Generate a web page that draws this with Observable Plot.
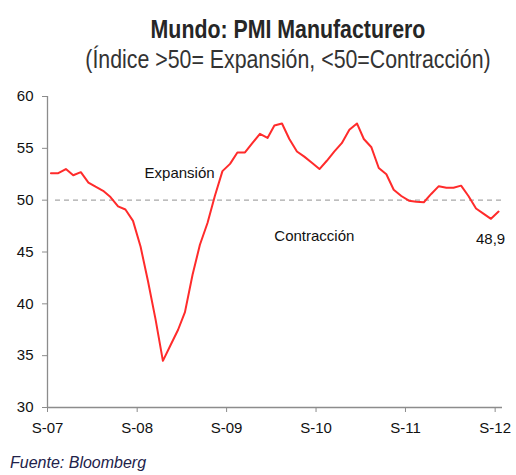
<!DOCTYPE html>
<html>
<head>
<meta charset="utf-8">
<script src="https://cdn.jsdelivr.net/npm/d3@7"></script>
<script src="https://cdn.jsdelivr.net/npm/@observablehq/plot@0.6"></script>
<style>
  html, body { margin: 0; padding: 0; background: #fff; overflow: hidden; }
  #wrap { position: relative; width: 516px; height: 475px; font-family: "Liberation Sans", Arial, sans-serif; }
  .t { position: absolute; left: 0; width: 576px; text-align: center; white-space: nowrap; line-height: 1; transform: scaleX(0.82); transform-origin: 288px 0; }
  #title { top: 16px; font-size: 26px; font-weight: bold; color: #262626; }
  #subtitle { top: 46px; font-size: 26px; color: #333; }
  #source { position: absolute; left: 10px; top: 455px; font-size: 16px; font-style: italic; color: #22224a; line-height: 1; white-space: nowrap; }
  #plot { position: absolute; left: 0; top: 80px; }
</style>
</head>
<body>
<div id="wrap">
  <div id="title" class="t">Mundo: PMI Manufacturero</div>
  <div id="subtitle" class="t">(Índice &gt;50= Expansión, &lt;50=Contracción)</div>
  <div id="plot"></div>
  <div id="source">Fuente: Bloomberg</div>
</div>
<script>
// Monthly series, Sep 2007 .. Sep 2012
const startYear = 2007, startMonth = 8; // September (0-based)
const pmi = [
  52.6, 52.6, 53.0, 52.4, 52.7, 51.7, 51.3, 50.9, 50.3, 49.4, 49.1, 48.0,
  45.5, 42.2, 38.5, 34.5, 36.0, 37.5, 39.2, 42.8, 45.7, 47.8, 50.4, 52.8,
  53.5, 54.6, 54.6, 55.5, 56.4, 56.0, 57.2, 57.4, 55.9, 54.7, 54.2, 53.6,
  53.0, 53.8, 54.7, 55.5, 56.8, 57.4, 55.9, 55.1, 53.1, 52.5, 51.0, 50.4,
  49.95, 49.85, 49.8, 50.6, 51.35, 51.2, 51.2, 51.4, 50.4, 49.2, 48.7, 48.2,
  48.9
];
const yTicks = [30, 35, 40, 45, 50, 55, 60];
const xTickLabels = ["S-07", "S-08", "S-09", "S-10", "S-11", "S-12"];
const lastLabel = "48,9";
const annotations = [
  {date: new Date(Date.UTC(2009, 1, 21)), value: 52.6, label: "Expansión"},
  {date: new Date(Date.UTC(2010, 7, 25)), value: 46.56, label: "Contracción"}
];

const data = pmi.map((v, i) => ({date: new Date(Date.UTC(startYear, startMonth + i, 15)), value: v}));
const xTicks = xTickLabels.map((_, i) => new Date(Date.UTC(startYear + i, startMonth, 1)));
const xStart = new Date(Date.UTC(startYear, startMonth, 1));
const xEnd = new Date(Date.UTC(startYear + 5, startMonth + 1, 1));
const last = data[data.length - 1];

const chart = Plot.plot({
  width: 516,
  height: 370,
  marginLeft: 47,
  marginRight: 14,
  marginTop: 16,
  marginBottom: 43,
  style: {fontFamily: "'Liberation Sans', Arial, sans-serif", fontSize: "15px", color: "#111", background: "transparent", overflow: "visible"},
  x: {type: "utc", domain: [xStart, xEnd]},
  y: {domain: [30, 60]},
  marks: [
    Plot.ruleY([50], {stroke: "#a8a8a8", strokeWidth: 1.3, strokeDasharray: "5,4", insetLeft: 8, insetRight: -3}),
    Plot.axisY({ticks: yTicks, tickSize: 5, tickPadding: 9, stroke: "#8c8c8c", fill: "#111", label: null, fontSize: 15}),
    Plot.axisX({ticks: xTicks, tickFormat: d => xTickLabels[d.getUTCFullYear() - startYear], tickSize: 5, tickPadding: 10, stroke: "#8c8c8c", fill: "#111", label: null, fontSize: 15}),
    Plot.ruleX([xStart], {stroke: "#8c8c8c", strokeWidth: 1.3}),
    Plot.ruleY([30], {stroke: "#8c8c8c", strokeWidth: 1.3}),
    Plot.line(data, {x: "date", y: "value", stroke: "#ff2b2b", strokeWidth: 2}),
    Plot.text(annotations, {x: "date", y: "value", text: "label", fill: "#111", fontSize: 15}),
    Plot.text([last], {x: "date", y: "value", text: () => lastLabel, dx: -8, dy: 28, fill: "#111", fontSize: 15})
  ]
});
document.getElementById("plot").appendChild(chart);
</script>
</body>
</html>
